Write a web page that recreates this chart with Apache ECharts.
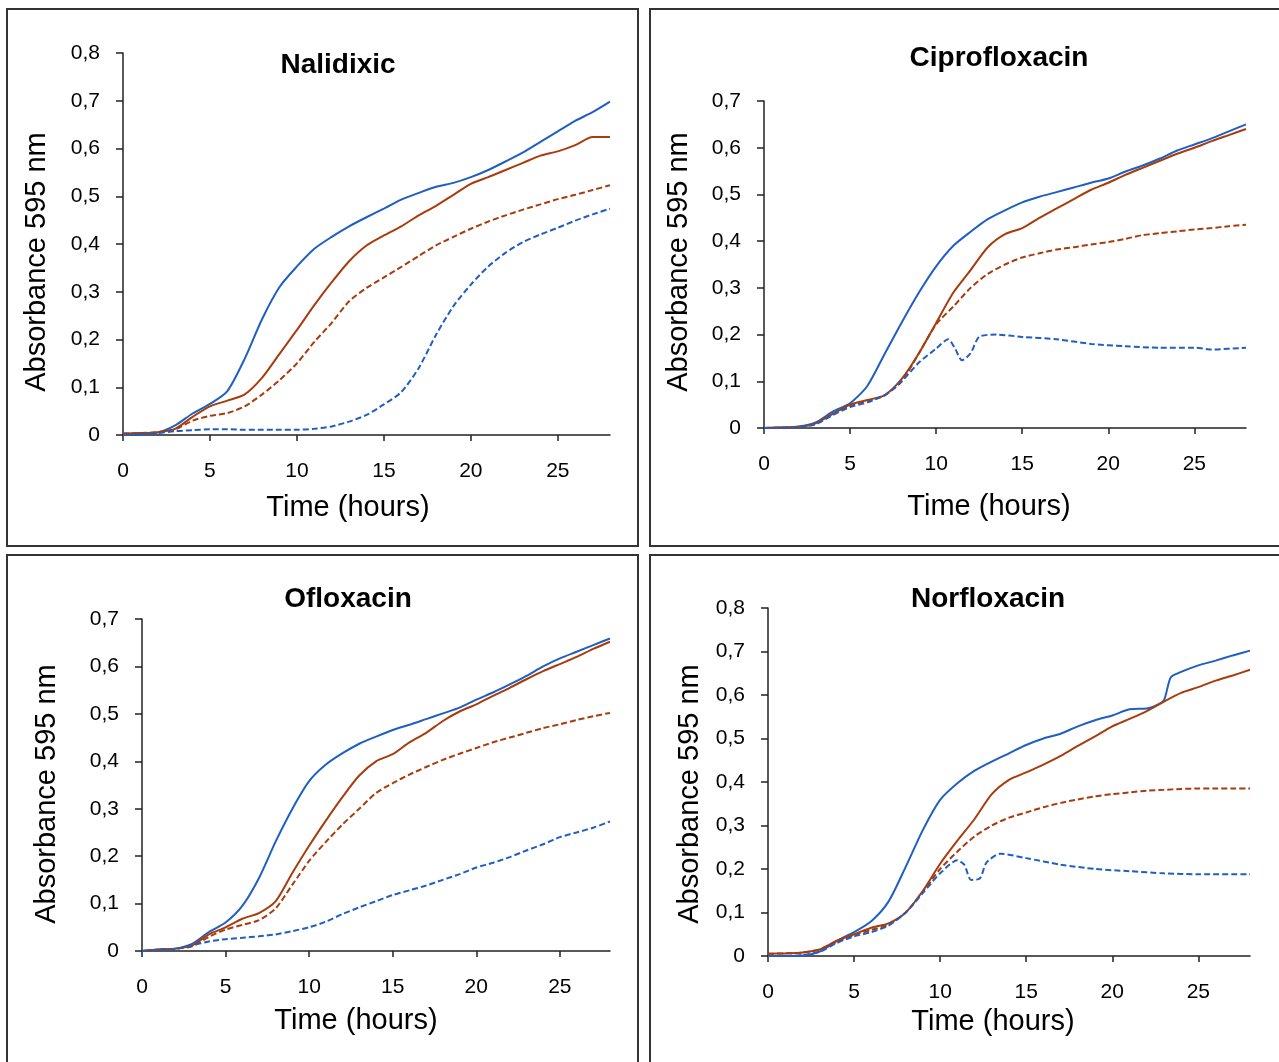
<!DOCTYPE html>
<html>
<head>
<meta charset="utf-8">
<script src="https://cdn.jsdelivr.net/npm/echarts@6/dist/echarts.min.js"></script>
<style>
html,body{margin:0;padding:0;background:#fff;}
#main{width:1279px;height:1062px;}
</style>
</head>
<body>
<div id="main"></div>
<script>
// 时间轴 (hours)
var hours = [0,1,2,3,4,5,6,7,8,9,10,11,12,13,14,15,16,17,18,19,20,21,22,23,24,25,26,27,28];
var xTicks = [0,5,10,15,20,25];

// Nalidixic
var nalBlue   = [0,0.002,0.005,0.02,0.045,0.065,0.092,0.16,0.243,0.31,0.353,0.39,0.415,0.437,0.456,0.474,0.493,0.507,0.52,0.528,0.54,0.555,0.573,0.592,0.614,0.636,0.658,0.676,0.698];
var nalBrown  = [0.003,0.004,0.006,0.013,0.038,0.06,0.072,0.085,0.12,0.17,0.22,0.272,0.32,0.364,0.397,0.418,0.437,0.46,0.48,0.503,0.526,0.54,0.555,0.57,0.585,0.594,0.607,0.624,0.624];
var nalBrownD = [0.003,0.004,0.006,0.012,0.03,0.04,0.046,0.06,0.085,0.115,0.15,0.195,0.235,0.28,0.308,0.33,0.352,0.375,0.397,0.415,0.432,0.447,0.46,0.472,0.483,0.494,0.503,0.513,0.523];
var nalBlueD  = [0,0.002,0.004,0.008,0.01,0.012,0.012,0.011,0.011,0.011,0.011,0.013,0.018,0.028,0.042,0.064,0.09,0.14,0.21,0.27,0.315,0.353,0.382,0.404,0.42,0.434,0.449,0.462,0.474];

// Ciprofloxacin
var ciBlue    = [0,0.001,0.003,0.012,0.035,0.053,0.09,0.158,0.226,0.29,0.346,0.39,0.42,0.447,0.466,0.483,0.495,0.505,0.515,0.525,0.534,0.549,0.562,0.577,0.594,0.607,0.62,0.635,0.65];
var ciBrown   = [0,0.001,0.002,0.01,0.03,0.05,0.06,0.07,0.105,0.16,0.225,0.29,0.338,0.387,0.415,0.428,0.45,0.47,0.49,0.51,0.525,0.542,0.557,0.572,0.587,0.6,0.614,0.627,0.64];
var ciBrownD  = [0,0.001,0.002,0.01,0.03,0.048,0.058,0.07,0.1,0.16,0.222,0.26,0.3,0.33,0.35,0.365,0.374,0.382,0.387,0.393,0.398,0.405,0.413,0.417,0.421,0.425,0.428,0.432,0.435];
var ciBlueDHours = [0,1,2,3,4,5,6,7,8,9,10,10.7,11.1,11.5,12,12.5,13.5,15,17,19,21,23,25,26,28];
var ciBlueD   = [0,0,0.002,0.008,0.028,0.045,0.055,0.07,0.1,0.14,0.17,0.19,0.17,0.145,0.16,0.195,0.2,0.195,0.19,0.18,0.175,0.172,0.172,0.168,0.172];

// Ofloxacin
var ofBlue    = [0,0.003,0.005,0.015,0.04,0.06,0.095,0.154,0.231,0.3,0.358,0.393,0.417,0.437,0.452,0.466,0.477,0.489,0.501,0.513,0.53,0.545,0.562,0.58,0.6,0.617,0.631,0.645,0.659];
var ofBrown   = [0,0.003,0.005,0.012,0.035,0.05,0.068,0.08,0.105,0.165,0.222,0.275,0.325,0.37,0.4,0.415,0.44,0.46,0.485,0.505,0.52,0.538,0.555,0.573,0.59,0.605,0.62,0.637,0.652];
var ofBrownD  = [0,0.003,0.005,0.01,0.03,0.045,0.055,0.065,0.09,0.14,0.19,0.23,0.267,0.3,0.333,0.354,0.372,0.388,0.403,0.416,0.428,0.44,0.45,0.46,0.47,0.478,0.487,0.495,0.502];
var ofBlueD   = [0,0.002,0.004,0.012,0.02,0.025,0.028,0.031,0.035,0.042,0.05,0.062,0.078,0.092,0.105,0.118,0.128,0.138,0.15,0.162,0.176,0.186,0.198,0.212,0.225,0.24,0.25,0.26,0.273];

// Norfloxacin
var noBlueHours = [0,1,2,3,4,5,6,7,8,9,10,11,12,13,14,15,16,17,18,19,20,21,22,22.5,23,23.4,24,25,26,27,28];
var noBlue    = [0,0,0.001,0.01,0.035,0.055,0.08,0.125,0.205,0.29,0.359,0.397,0.426,0.447,0.466,0.485,0.5,0.511,0.528,0.542,0.553,0.567,0.569,0.575,0.588,0.641,0.653,0.668,0.679,0.691,0.702];
var noBrown   = [0.005,0.006,0.008,0.015,0.035,0.05,0.065,0.075,0.1,0.15,0.212,0.265,0.315,0.372,0.405,0.422,0.44,0.46,0.483,0.505,0.528,0.545,0.563,0.585,0.605,0.618,0.633,0.645,0.658];
var noBrownD  = [0.005,0.006,0.008,0.015,0.032,0.048,0.06,0.072,0.1,0.148,0.2,0.24,0.275,0.3,0.318,0.33,0.342,0.352,0.36,0.367,0.372,0.376,0.38,0.382,0.384,0.385,0.385,0.385,0.385];
var noBlueDHours = [0,1,2,3,4,5,6,7,8,9,10,11,11.4,11.8,12.3,12.7,13.5,15,17,19,21,23,25,28];
var noBlueD   = [0,0,0.002,0.01,0.03,0.045,0.055,0.07,0.1,0.145,0.19,0.22,0.21,0.175,0.178,0.215,0.235,0.225,0.21,0.2,0.195,0.19,0.188,0.188];

var BLUE = '#1f5fc4';
var BROWN = '#a83c0c';
var FONT = 'Liberation Sans, Arial, sans-serif';

// 每个面板的布局
var panels = [
    {title:'Nalidixic', yMax:0.8, grid:{left:123, top:53, width:487, height:382},
     box:[7,9,631,537], titlePos:[338,65], yName:[37,262], xName:[348,508],
     lines:[[hours,nalBlue,BLUE,'solid'],[hours,nalBrown,BROWN,'solid'],[hours,nalBrownD,BROWN,'dashed'],[hours,nalBlueD,BLUE,'dashed']]},
    {title:'Ciprofloxacin', yMax:0.7, grid:{left:764, top:101, width:482, height:327},
     box:[650,9,640,537], titlePos:[999,58], yName:[679,262], xName:[989,507],
     lines:[[hours,ciBlue,BLUE,'solid'],[hours,ciBrown,BROWN,'solid'],[hours,ciBrownD,BROWN,'dashed'],[ciBlueDHours,ciBlueD,BLUE,'dashed']]},
    {title:'Ofloxacin', yMax:0.7, grid:{left:142, top:619, width:468, height:332},
     box:[7,555,631,520], titlePos:[348,599], yName:[47,794], xName:[356,1021],
     lines:[[hours,ofBlue,BLUE,'solid'],[hours,ofBrown,BROWN,'solid'],[hours,ofBrownD,BROWN,'dashed'],[hours,ofBlueD,BLUE,'dashed']]},
    {title:'Norfloxacin', yMax:0.8, grid:{left:768, top:608, width:482, height:348},
     box:[650,555,640,520], titlePos:[988,599], yName:[690,794], xName:[993,1022],
     lines:[[noBlueHours,noBlue,BLUE,'solid'],[hours,noBrown,BROWN,'solid'],[hours,noBrownD,BROWN,'dashed'],[noBlueDHours,noBlueD,BLUE,'dashed']]}
];

function zip(xs, ys){
    return xs.map(function(x, i){ return [x, ys[i]]; });
}

var grids = [], xAxes = [], yAxes = [], series = [], graphics = [];

panels.forEach(function(p, idx){
    grids.push(p.grid);
    xAxes.push({
        type:'value', gridIndex:idx, min:0, max:28,
        axisLine:{lineStyle:{color:'#222', width:1.5}},
        axisTick:{customValues:xTicks, length:6, lineStyle:{color:'#222', width:1.5}},
        axisLabel:{customValues:xTicks, margin:26, color:'#000', fontSize:21, fontFamily:FONT},
        splitLine:{show:false}
    });
    yAxes.push({
        type:'value', gridIndex:idx, min:0, max:p.yMax, interval:0.1,
        axisLine:{show:true, lineStyle:{color:'#222', width:1.5}},
        axisTick:{show:true, length:7, lineStyle:{color:'#222', width:1.5}},
        axisLabel:{margin:23, color:'#000', fontSize:21, fontFamily:FONT,
            formatter:function(v){ return v === 0 ? '0' : v.toFixed(1).replace('.', ','); }},
        splitLine:{show:false}
    });
    p.lines.forEach(function(l){
        series.push({
            type:'line', xAxisIndex:idx, yAxisIndex:idx,
            data:zip(l[0], l[1]),
            showSymbol:false, smooth:0.25,
            lineStyle:{color:l[2], width:2, type:l[3] === 'dashed' ? [6,3] : 'solid'}
        });
    });

    // 边框和文字
    graphics.push({
        type:'rect', shape:{x:p.box[0], y:p.box[1], width:p.box[2], height:p.box[3]},
        style:{fill:'none', stroke:'#333', lineWidth:2}
    });
    graphics.push({
        type:'text', x:p.titlePos[0], y:p.titlePos[1],
        style:{text:p.title, font:'bold 28px ' + FONT, fill:'#000', align:'center', verticalAlign:'middle'}
    });
    graphics.push({
        type:'text', x:p.yName[0], y:p.yName[1], rotation:Math.PI / 2,
        style:{text:'Absorbance 595 nm', font:'29px ' + FONT, fill:'#000', align:'center', verticalAlign:'middle'}
    });
    graphics.push({
        type:'text', x:p.xName[0], y:p.xName[1],
        style:{text:'Time (hours)', font:'29px ' + FONT, fill:'#000', align:'center', verticalAlign:'middle'}
    });
});

var myChart = echarts.init(document.getElementById('main'));
myChart.setOption({
    animation:false,
    backgroundColor:'#fff',
    grid:grids,
    xAxis:xAxes,
    yAxis:yAxes,
    series:series,
    graphic:graphics
});
</script>
</body>
</html>
